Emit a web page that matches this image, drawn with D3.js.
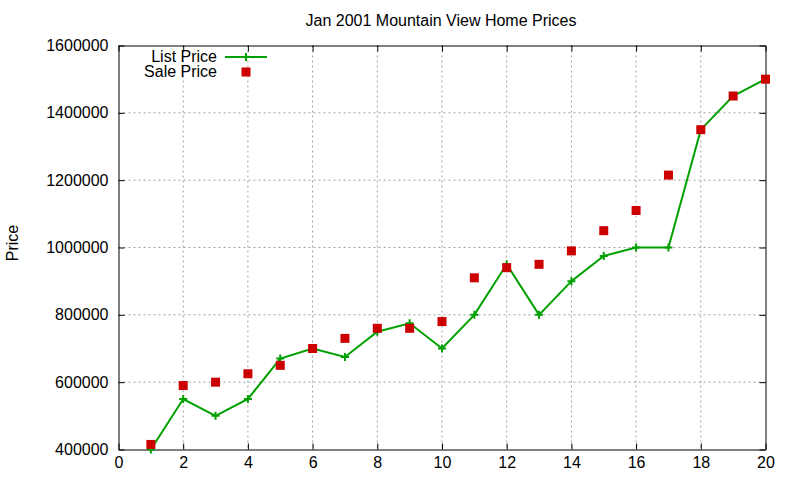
<!DOCTYPE html>
<html>
<head>
<meta charset="utf-8">
<script src="https://cdn.jsdelivr.net/npm/d3@7"></script>
<style>
  body { margin: 0; background: #fff; }
  text { font-family: "Liberation Sans", Arial, sans-serif; }
</style>
</head>
<body>
<script>
// Data
var months = [1, 2, 3, 4, 5, 6, 7, 8, 9, 10, 11, 12, 13, 14, 15, 16, 17, 18, 19, 20]
var listPrice = [400000, 550000, 500000, 550000, 670000, 700000, 675000, 750000, 775000, 700000,
                 800000, 950000, 800000, 900000, 975000, 1000000, 1000000, 1350000, 1450000, 1500000]
var salePrice = [415000, 590000, 600000, 625000, 650000, 700000, 730000, 760000, 760000, 780000,
                 910000, 940000, 950000, 990000, 1050000, 1110000, 1215000, 1350000, 1450000, 1500000]
var xTicks = [0, 2, 4, 6, 8, 10, 12, 14, 16, 18, 20]
var yTicks = [400000, 600000, 800000, 1000000, 1200000, 1400000, 1600000]

var w = 800
var h = 480
// plot box edges (window.top is reserved, so keep them in an object)
var box = {left: 118.5, right: 765.5, top: 45.5, bottom: 449.5}
var green = "#00a000"
var red = "#cc0000"
var tickLen = 6

var svg = d3.select("body").append("svg")
  .attr("width", w)
  .attr("height", h)

var xScale = d3.scaleLinear().domain([0, 20]).range([box.left, box.right])
var yScale = d3.scaleLinear().domain([400000, 1600000]).range([box.bottom, box.top])

// Grid lines
svg.append("g").selectAll("line").data(xTicks.slice(1, -1)).enter().append("line")
  .attr("x1", function(d) { return xScale(d) }).attr("x2", function(d) { return xScale(d) })
  .attr("y1", box.top).attr("y2", box.bottom)
  .attr("stroke", "#a0a0a0").attr("stroke-dasharray", "2,3")
svg.append("g").selectAll("line").data(yTicks.slice(1, -1)).enter().append("line")
  .attr("y1", function(d) { return yScale(d) }).attr("y2", function(d) { return yScale(d) })
  .attr("x1", box.left).attr("x2", box.right)
  .attr("stroke", "#a0a0a0").attr("stroke-dasharray", "2,3")

// Axes, ticks pointing inward on all four sides
svg.append("g")
  .attr("transform", "translate(0," + box.bottom + ")")
  .call(d3.axisBottom(xScale).tickValues(xTicks).tickSizeInner(-tickLen).tickSizeOuter(0).tickPadding(7))
svg.append("g")
  .attr("transform", "translate(0," + box.top + ")")
  .call(d3.axisTop(xScale).tickValues(xTicks).tickSizeInner(-tickLen).tickSizeOuter(0).tickFormat(""))
svg.append("g")
  .attr("transform", "translate(" + box.left + ",0)")
  .call(d3.axisLeft(yScale).tickValues(yTicks).tickSizeInner(-tickLen).tickSizeOuter(0).tickPadding(10)
    .tickFormat(d3.format("d")))
svg.append("g")
  .attr("transform", "translate(" + box.right + ",0)")
  .call(d3.axisRight(yScale).tickValues(yTicks).tickSizeInner(-tickLen).tickSizeOuter(0).tickFormat(""))

svg.selectAll(".domain").attr("stroke", "#000").attr("stroke-width", 1)
svg.selectAll(".tick line").attr("stroke", "#000")
svg.selectAll(".tick text")
  .style("font-family", "Liberation Sans, Arial, sans-serif")
  .style("font-size", "16px")
  .attr("fill", "#000")

// Title and axis label
svg.append("text")
  .attr("x", 441).attr("y", 26)
  .style("text-anchor", "middle")
  .style("font-size", "16px")
  .text("Jan 2001 Mountain View Home Prices")

svg.append("text")
  .attr("transform", "translate(18, 243) rotate(-90)")
  .style("text-anchor", "middle")
  .style("font-size", "16px")
  .text("Price")

// List price line
var line = d3.line()
  .x(function(d, i) { return xScale(months[i]) })
  .y(function(d) { return yScale(d) })

svg.append("path")
  .datum(listPrice)
  .attr("d", line)
  .attr("fill", "none")
  .attr("stroke", green)
  .attr("stroke-width", 2)

function plus(g, x, y) {
  g.append("path")
    .attr("d", "M" + (x - 4) + "," + y + "H" + (x + 4) + "M" + x + "," + (y - 4) + "V" + (y + 4))
    .attr("stroke", green)
    .attr("stroke-width", 2)
}

var plusG = svg.append("g")
listPrice.forEach(function(d, i) { plus(plusG, xScale(months[i]), yScale(d)) })

// Sale price squares
svg.append("g").selectAll("rect").data(salePrice).enter().append("rect")
  .attr("x", function(d, i) { return xScale(months[i]) - 4.5 })
  .attr("y", function(d) { return yScale(d) - 4.5 })
  .attr("width", 9)
  .attr("height", 9)
  .attr("fill", red)

// Legend
svg.append("text")
  .attr("x", 217).attr("y", 62)
  .style("text-anchor", "end")
  .style("font-size", "16px")
  .text("List Price")
svg.append("line")
  .attr("x1", 225).attr("x2", 267).attr("y1", 57).attr("y2", 57)
  .attr("stroke", green).attr("stroke-width", 2)
plus(svg, 246, 57)

svg.append("text")
  .attr("x", 217).attr("y", 77)
  .style("text-anchor", "end")
  .style("font-size", "16px")
  .text("Sale Price")
svg.append("rect")
  .attr("x", 241.5).attr("y", 67.5).attr("width", 9).attr("height", 9)
  .attr("fill", red)
</script>
</body>
</html>
